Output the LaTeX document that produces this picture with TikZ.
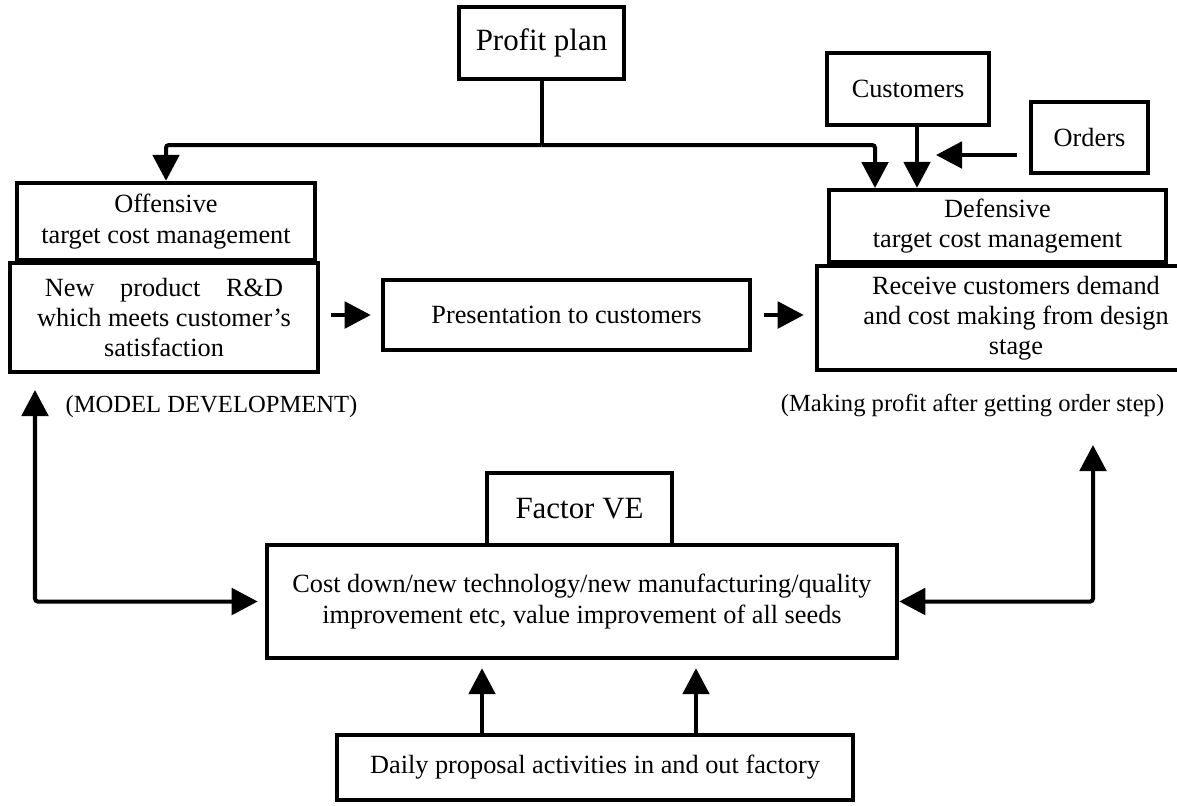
\documentclass[tikz,border=0pt]{standalone}
\usepackage{fontspec}
\setmainfont{Liberation Serif}
\usepackage{tikz}
\usetikzlibrary{arrows.meta, calc}
\tikzset{
	blk/.style  ={rectangle, draw=black, line width=0.11cm, align=center, inner sep=2pt, font=\fontsize{18.7pt}{21.5pt}\selectfont},
	ttl/.style  ={blk, font=\fontsize{22pt}{26pt}\selectfont},
	note/.style ={align=center, inner sep=0pt, font=\fontsize{17.5pt}{21pt}\selectfont},
	wire/.style ={line width=0.1cm, rounded corners=2pt},
	sig/.style  ={wire, -{Triangle[length=0.65cm, width=0.66cm]}},
	sigtwo/.style={wire, {Triangle[length=0.65cm, width=0.66cm]}-{Triangle[length=0.65cm, width=0.66cm]}},
}
\begin{document}
\begin{tikzpicture}[x=0.025cm, y=-0.025cm]
	\useasboundingbox (0,0) rectangle (1177,805);
	\clip (0,0) rectangle (1177,805);
	% top row
	\node[ttl, minimum width=4.125cm, minimum height=1.8cm] (plan) at (541.5,43) {Profit plan};
	\node[blk, minimum width=4.05cm, minimum height=1.8cm] (cust) at (908,89) {Customers};
	\node[blk, minimum width=2.925cm, minimum height=1.775cm] (ordr) at (1089.5,137.5) {Orders};
	% the two target cost blocks
	\node[blk, minimum width=7.45cm, minimum height=1.925cm] (offn) at (166,221.5) {Offensive\\ target cost management};
	\node[blk, minimum width=7.7cm, minimum height=2.725cm] (newp) at (164,317.5) {\makebox[5.95cm][s]{New product R\&D}\\ which meets customer’s\\ satisfaction};
	\node[blk, minimum width=9.175cm, minimum height=1.75cm] (pres) at (566.5,315) {Presentation to customers};
	\node[blk, minimum width=8.425cm, minimum height=1.8cm] (defn) at (997.5,226) {Defensive\\ target cost management};
	\node[blk, minimum width=9.95cm, minimum height=2.6cm] (recv) at (1016,318) {Receive customers demand\\ and cost making from design\\ stage};
	\node[note] (mdl) at (211.5,407) {(MODEL DEVELOPMENT)};
	\node[note] (mkp) at (972.5,405) {(Making profit after getting order step)};
	% VE part
	\node[ttl, minimum width=4.625cm, minimum height=1.8cm] (fve) at (579.5,509) {Factor VE};
	\node[blk, minimum width=15.75cm, minimum height=2.825cm] (cost) at (582,601.5) {Cost down/new technology/new manufacturing/quality\\ improvement etc, value improvement of all seeds};
	\node[blk, minimum width=12.9cm, minimum height=1.625cm] (dail) at (595,767.5) {Daily proposal activities in and out factory};

	\coordinate (split) at (541.5,145);
	\coordinate (pin) at (875,188);
	\coordinate (cdrop) at ([xshift=0.225cm]cust.south);
	\coordinate (oa) at (1017,155);
	\coordinate (ob) at (936,155);
	\coordinate (lft) at (35,390);
	\coordinate (rgt) at (1093,445);

	\draw[wire] (plan.south) -- (split);
	\draw[sig] (split) -| (offn.north);
	\draw[sig] (split) -| (pin);
	\draw[sig] (cdrop) -- (cdrop |- defn.north);
	\draw[sig] (oa) -- (ob);
	\draw[sig, shorten <=0.275cm, shorten >=0.25cm] (newp.east |- pres.west) -- (pres.west);
	\draw[sig, shorten <=0.3cm, shorten >=0.275cm] (pres.east) -- (pres.east -| recv.west);
	\draw[sigtwo, shorten >=0.175cm] (lft) |- (cost.west);
	\draw[sigtwo] (rgt) |- (cost.east);
	\foreach \i/\dx in {1/482, 2/696} {
		\coordinate (u\i) at (\dx,0);
		\draw[sig, shorten >=0.2cm] (dail.north -| u\i) -- (cost.south -| u\i);
	}
\end{tikzpicture}
\end{document}
